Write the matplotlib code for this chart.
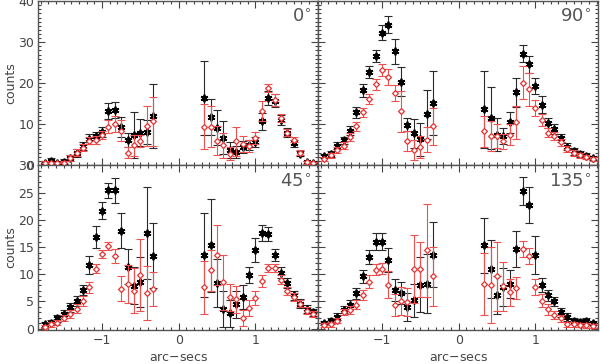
import matplotlib
matplotlib.use("Agg")
import matplotlib.pyplot as plt
from matplotlib.ticker import MultipleLocator

# positions along the slit (arc-secs), same for every panel
x_left = [-1.75, -1.667, -1.583, -1.5, -1.417, -1.333, -1.25, -1.167, -1.083,
          -1.0, -0.917, -0.833, -0.75, -0.667, -0.583, -0.5, -0.417, -0.333]
x_right = [0.333, 0.417, 0.5, 0.583, 0.667, 0.75, 0.833, 0.917, 1.0,
           1.083, 1.167, 1.25, 1.333, 1.417, 1.5, 1.583, 1.667, 1.75]

angles = ["0", "90", "45", "135"]

# 0 deg
blk_0 = [0.6, 1.1, 0.6, 0.9, 1.8, 3.1, 4.8, 6.5, 7.2, 8.2, 13.3, 13.5, 9.3, 6.2, 7.4, 8.0, 8.1, 12.0,
         16.3, 11.7, 9.2, 6.7, 3.7, 3.2, 4.5, 5.0, 5.6, 10.7, 16.4, 15.8, 11.0, 8.0, 5.4, 2.9, 0.8, 0.5]
blk_0_err = [0.5, 0.6, 0.5, 0.6, 0.8, 1.0, 1.0, 1.2, 1.0, 1.2, 2.0, 2.0, 2.5, 1.8, 5.5, 3.2, 3.0, 7.8,
             9.0, 4.4, 4.3, 4.0, 2.0, 1.5, 1.5, 1.3, 1.2, 2.0, 1.8, 1.6, 1.2, 1.0, 0.8, 0.6, 0.4, 0.3]
red_0 = [0.6, 0.5, 0.5, 0.7, 1.8, 3.1, 4.3, 6.0, 6.2, 7.4, 9.4, 10.1, 8.5, 3.1, 4.9, 5.9, 9.6, 10.7,
         9.4, 9.4, 6.0, 4.9, 2.9, 5.9, 5.2, 4.8, 6.7, 13.3, 18.8, 15.9, 11.5, 8.0, 6.3, 3.1, 0.8, 0.5]
red_0_err = [0.4, 0.4, 0.4, 0.5, 0.7, 0.8, 0.8, 0.9, 0.9, 1.0, 1.6, 2.0, 2.5, 1.3, 2.5, 1.5, 4.8, 6.0,
             5.5, 5.0, 3.5, 3.0, 1.5, 3.5, 2.0, 1.5, 1.5, 2.5, 1.0, 1.4, 1.0, 0.9, 0.7, 0.6, 0.4, 0.3]

# 90 deg
blk_90 = [2.3, 2.8, 4.8, 6.1, 8.5, 12.9, 18.3, 22.8, 26.6, 32.3, 34.3, 27.8, 20.4, 9.9, 7.8, 6.4, 12.4, 15.2,
          13.7, 11.5, 7.5, 7.1, 10.5, 17.8, 27.2, 24.6, 19.3, 14.8, 10.3, 8.9, 6.7, 4.6, 3.4, 2.8, 2.4, 1.8]
blk_90_err = [0.6, 0.7, 0.8, 0.9, 1.0, 1.3, 1.6, 1.5, 1.5, 1.8, 2.0, 3.0, 3.6, 1.6, 3.6, 4.0, 6.0, 7.7,
              9.4, 7.5, 4.0, 2.0, 2.5, 3.5, 2.0, 2.0, 2.0, 2.0, 1.3, 1.2, 1.0, 0.9, 0.8, 0.7, 0.6, 0.5]
red_90 = [1.6, 2.5, 3.7, 4.8, 6.9, 9.5, 12.9, 16.2, 19.7, 23.3, 21.5, 17.6, 13.2, 5.9, 3.8, 4.4, 6.3, 9.5,
          8.3, 7.2, 7.2, 5.9, 7.5, 10.5, 20.1, 18.5, 14.0, 11.0, 8.0, 7.1, 5.6, 4.0, 3.0, 2.5, 2.0, 1.6]
red_90_err = [0.5, 0.6, 0.7, 0.8, 0.9, 1.0, 1.1, 1.2, 1.4, 1.5, 2.0, 2.0, 5.0, 2.5, 2.5, 2.7, 3.0, 4.5,
              3.7, 3.6, 3.0, 1.8, 2.5, 4.0, 4.0, 4.0, 2.0, 1.5, 1.2, 1.0, 0.9, 0.8, 0.7, 0.6, 0.5, 0.5]

# 45 deg
blk_45 = [0.8, 1.1, 1.9, 2.7, 3.9, 5.1, 7.1, 11.7, 16.8, 21.7, 25.4, 25.4, 18.0, 11.4, 7.9, 8.5, 17.6, 13.4,
          13.6, 15.3, 8.4, 3.7, 2.8, 4.5, 5.8, 9.9, 14.5, 17.6, 17.4, 13.6, 10.3, 8.4, 6.1, 4.6, 3.6, 3.0]
blk_45_err = [0.4, 0.5, 0.6, 0.7, 0.8, 0.9, 1.0, 1.7, 2.0, 1.5, 1.4, 2.3, 3.2, 3.2, 3.4, 4.6, 8.5, 6.0,
              7.7, 8.6, 4.4, 3.3, 2.5, 2.5, 2.2, 1.5, 2.2, 1.4, 1.3, 1.1, 1.0, 0.9, 0.8, 0.8, 0.7, 0.6]
red_45 = [0.4, 0.8, 1.1, 2.0, 2.7, 3.7, 5.1, 7.6, 11.0, 13.7, 15.2, 13.3, 7.3, 8.2, 7.0, 9.8, 6.6, 7.3,
          7.6, 10.7, 13.5, 8.5, 5.8, 5.4, 2.0, 3.8, 5.6, 8.7, 11.2, 11.2, 9.0, 6.9, 5.8, 4.6, 3.3, 2.7]
red_45_err = [0.3, 0.4, 0.5, 0.6, 0.7, 0.8, 0.9, 1.0, 0.8, 0.8, 0.8, 1.3, 2.3, 3.5, 4.2, 6.6, 5.0, 3.2,
              4.9, 3.7, 5.5, 5.0, 2.5, 2.5, 1.5, 1.5, 1.3, 1.1, 0.7, 0.7, 0.8, 0.7, 0.7, 0.6, 0.6, 0.5]

# 135 deg
blk_135 = [1.0, 1.4, 2.2, 3.5, 4.4, 6.5, 9.6, 13.2, 16.0, 16.0, 12.7, 7.1, 6.5, 4.0, 5.2, 8.1, 8.3, 13.6,
           15.3, 11.0, 6.2, 7.6, 8.2, 14.7, 25.3, 22.7, 13.6, 8.1, 6.1, 5.0, 3.0, 2.2, 1.4, 1.2, 1.4, 1.0]
blk_135_err = [0.4, 0.5, 0.6, 0.7, 0.8, 1.0, 1.2, 1.3, 1.5, 1.5, 2.2, 2.0, 2.0, 2.5, 3.0, 5.0, 5.5, 6.0,
               5.0, 5.3, 3.5, 3.5, 2.5, 3.3, 2.6, 3.3, 3.5, 1.3, 1.0, 0.9, 0.8, 0.7, 0.6, 0.5, 0.5, 0.4]
red_135 = [0.7, 0.8, 1.5, 3.1, 3.4, 4.4, 6.2, 8.6, 10.8, 11.0, 8.1, 4.4, 5.1, 4.9, 11.0, 10.9, 14.4, 9.6,
           8.3, 8.0, 9.6, 7.8, 6.7, 7.5, 14.6, 13.3, 7.6, 5.1, 3.6, 2.5, 1.9, 0.8, 0.8, 0.7, 0.6, 0.5]
red_135_err = [0.3, 0.4, 0.5, 0.6, 0.7, 0.8, 0.9, 1.2, 1.0, 1.0, 2.5, 2.0, 2.5, 2.5, 6.3, 5.0, 8.5, 5.5,
               5.7, 7.0, 6.4, 4.5, 2.5, 2.0, 1.5, 1.5, 1.5, 1.2, 1.0, 0.8, 0.7, 0.5, 0.5, 0.4, 0.4, 0.4]

panels = [(blk_0, blk_0_err, red_0, red_0_err),
          (blk_90, blk_90_err, red_90, red_90_err),
          (blk_45, blk_45_err, red_45, red_45_err),
          (blk_135, blk_135_err, red_135, red_135_err)]

FG = "#444444"
RED = "#e8302f"
RED_BAR = "#ee5050"

plt.rcParams['font.family'] = ['DejaVu Sans']
plt.rcParams['font.size'] = 9

x_all = x_left + x_right

fig, axes = plt.subplots(2, 2, figsize=(6, 3.64), dpi=100, sharex=True)
fig.subplots_adjust(left=0.064, right=0.997, top=0.997, bottom=0.094, hspace=0, wspace=0)

for i, ax in enumerate(axes.flat):
    blk, blk_err, red, red_err = panels[i]
    ax.errorbar(x_all, blk, yerr=blk_err, fmt="none", ecolor="#2a2a2a", elinewidth=0.8,
                capsize=2.8, capthick=0.8, zorder=2)
    ax.plot(x_all, blk, linestyle="none", marker=(6, 2, 0), markersize=5.5,
            markeredgewidth=1.3, color="black", zorder=3)
    ax.errorbar(x_all, red, yerr=red_err, fmt="none", ecolor=RED_BAR, elinewidth=0.8,
                capsize=2.8, capthick=0.8, zorder=4)
    ax.plot(x_all, red, linestyle="none", marker="D", markersize=3.0,
            markerfacecolor="white", markeredgecolor=RED, markeredgewidth=0.9, zorder=5)

    ax.set_xlim(-1.83, 1.82)
    if i < 2:
        ax.set_ylim(0, 40)
        ax.yaxis.set_major_locator(MultipleLocator(10))
    else:
        ax.set_ylim(-0.2, 30)
        ax.yaxis.set_major_locator(MultipleLocator(5))
    ax.yaxis.set_minor_locator(MultipleLocator(1))
    ax.xaxis.set_major_locator(MultipleLocator(1))
    ax.xaxis.set_minor_locator(MultipleLocator(0.1))

    ax.tick_params(which="both", direction="in", top=True, right=True, colors=FG,
                   labelcolor=FG, width=0.8)
    ax.tick_params(which="major", length=5, pad=3)
    ax.tick_params(which="minor", length=2.5)
    for sp in ax.spines.values():
        sp.set_color("#555555")
        sp.set_linewidth(1.0)

    if i % 2 == 1:
        ax.tick_params(labelleft=False)
    else:
        ax.set_ylabel("counts", color=FG, labelpad=1)
    if i >= 2:
        ax.set_xlabel("arc$-$secs", color=FG, labelpad=3)

    ax.text(0.975, 0.955, angles[i] + "$^{\\circ}$", transform=ax.transAxes,
            ha="right", va="top", fontsize=13, color="#555555")

fig.savefig("out.png", dpi=100)
